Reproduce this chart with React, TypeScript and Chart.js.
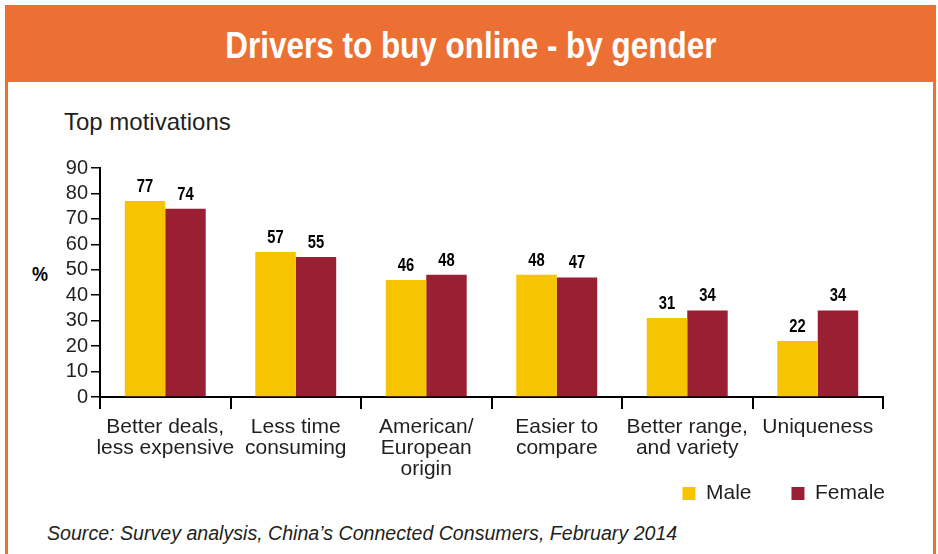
import React, { useEffect, useRef } from "react";
import { Chart, registerables } from "chart.js";

Chart.register(...registerables);

const categories: string[][] = [
  ["Better deals,", "less expensive"],
  ["Less time", "consuming"],
  ["American/", "European", "origin"],
  ["Easier to", "compare"],
  ["Better range,", "and variety"],
  ["Uniqueness"],
];
const maleValues = [77, 57, 46, 48, 31, 22];
const femaleValues = [74, 55, 48, 47, 34, 34];
const seriesNames = ["Male", "Female"];
const yTicksMax = 90;
const yStep = 10;

const TITLE = "Drivers to buy online - by gender";
const SUBTITLE = "Top motivations";
const SOURCE = "Source: Survey analysis, China\u2019s Connected Consumers, February 2014";

const ORANGE = "#EC7033";
const YELLOW = "#F6C400";
const MAROON = "#9B1F32";
const TEXT = "#231F20";
const FONT = "'Liberation Sans', Arial, sans-serif";

const valueLabels = {
  id: "valueLabels",
  afterDatasetsDraw(chart: any) {
    const ctx = chart.ctx;
    chart.data.datasets.forEach((ds: any, i: number) => {
      const meta = chart.getDatasetMeta(i);
      meta.data.forEach((bar: any, j: number) => {
        const v = ds.data[j];
        ctx.save();
        ctx.translate(bar.x, bar.y - 9);
        ctx.scale(0.82, 1);
        ctx.font = `bold 18px ${FONT}`;
        ctx.fillStyle = "#000";
        ctx.textAlign = "center";
        ctx.textBaseline = "alphabetic";
        ctx.fillText(String(v), 0, 0);
        ctx.restore();
      });
    });
  },
};

export default function App() {
  const ref = useRef<HTMLCanvasElement | null>(null);

  useEffect(() => {
    if (!ref.current) return;
    const chart = new Chart(ref.current, {
      type: "bar",
      data: {
        labels: categories,
        datasets: [
          {
            label: seriesNames[0],
            data: maleValues,
            backgroundColor: YELLOW,
            borderWidth: 0,
            categoryPercentage: 0.62,
            barPercentage: 1,
          },
          {
            label: seriesNames[1],
            data: femaleValues,
            backgroundColor: MAROON,
            borderWidth: 0,
            categoryPercentage: 0.62,
            barPercentage: 1,
          },
        ],
      },
      options: {
        animation: false,
        responsive: false,
        maintainAspectRatio: false,
        layout: { padding: { left: 0, right: 13, top: 20, bottom: 0 } },
        plugins: {
          tooltip: { enabled: false },
          legend: {
            display: true,
            position: "bottom",
            align: "end",
            labels: {
              boxWidth: 13,
              boxHeight: 13,
              padding: 40,
              color: TEXT,
              font: { family: FONT, size: 21 },
            },
          },
        },
        scales: {
          x: {
            offset: true,
            grid: {
              offset: true,
              drawOnChartArea: false,
              drawTicks: true,
              tickLength: 12,
              color: "#000",
              lineWidth: 2,
            },
            border: { display: true, color: "#000", width: 2 },
            ticks: {
              color: TEXT,
              font: { family: FONT, size: 21, lineHeight: 1.02 },
              padding: 7,
              maxRotation: 0,
              autoSkip: false,
            },
            afterFit: (s: any) => {
              s.height = 46;
            },
            afterUpdate: (s: any) => {
              // let the multi-line labels run below the axis box (into the legend band)
              s._computeLabelArea = () => undefined;
            },
          },
          y: {
            min: 0,
            max: yTicksMax,
            grid: {
              drawOnChartArea: false,
              drawTicks: true,
              tickLength: 9,
              color: "#000",
              lineWidth: 1.5,
            },
            border: { display: true, color: "#000", width: 2 },
            ticks: {
              stepSize: yStep,
              autoSkip: false,
              color: TEXT,
              font: { family: FONT, size: 20 },
              padding: 3,
            },
            afterFit: (s: any) => {
              s.width = 100;
            },
          },
          y2: {
            type: "linear",
            position: "right",
            display: true,
            grid: { display: false, drawTicks: false },
            border: { display: false },
            ticks: { display: false },
            afterFit: (s: any) => {
              s.width = 42;
            },
          },
        },
      },
      plugins: [valueLabels],
    } as any);
    return () => chart.destroy();
  }, []);

  return (
    <div
      style={{
        position: "absolute",
        left: 0,
        top: 0,
        width: 938,
        height: 554,
        background: "#fff",
        overflow: "hidden",
        fontFamily: FONT,
        color: TEXT,
      }}
    >
      <div style={{ position: "absolute", left: 5, top: 5, width: 931, height: 77, background: ORANGE }} />
      <div style={{ position: "absolute", left: 5, top: 82, width: 3, height: 472, background: ORANGE }} />
      <div style={{ position: "absolute", left: 933, top: 82, width: 3, height: 472, background: ORANGE }} />
      <div
        style={{
          position: "absolute",
          left: 5,
          width: 931,
          top: 26,
          textAlign: "center",
          lineHeight: "40px",
        }}
      >
        <span
          style={{
            display: "inline-block",
            color: "#fff",
            fontWeight: "bold",
            fontSize: 37,
            transform: "scaleX(0.85)",
            whiteSpace: "nowrap",
          }}
        >
          {TITLE}
        </span>
      </div>
      <div
        style={{
          position: "absolute",
          left: 64,
          top: 110,
          fontSize: 24,
          lineHeight: "24px",
          whiteSpace: "nowrap",
        }}
      >
        {SUBTITLE}
      </div>
      <div
        style={{
          position: "absolute",
          left: 32,
          top: 264,
          fontSize: 20,
          lineHeight: "20px",
          fontWeight: "bold",
          transform: "scaleX(0.9)",
          transformOrigin: "left center",
          color: "#000",
        }}
      >
        %
      </div>
      <canvas
        ref={ref}
        width={938}
        height={366}
        style={{ position: "absolute", left: 0, top: 148, width: 938, height: 366 }}
      />
      <div
        style={{
          position: "absolute",
          left: 47,
          top: 523,
          fontSize: 19.6,
          lineHeight: "20px",
          fontStyle: "italic",
          whiteSpace: "nowrap",
        }}
      >
        {SOURCE}
      </div>
    </div>
  );
}
